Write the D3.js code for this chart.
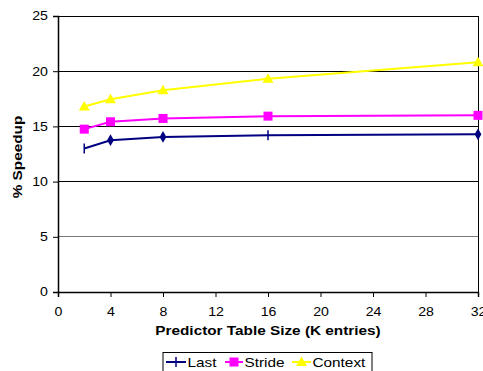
<!DOCTYPE html>
<html>
<head>
<meta charset="utf-8">
<script src="https://cdn.jsdelivr.net/npm/d3@7"></script>
<style>
  html, body { margin: 0; padding: 0; background: #fff; }
  svg { display: block; font-family: "Liberation Sans", Arial, sans-serif; }
</style>
</head>
<body>
<svg id="chart" width="483" height="371"></svg>
<script>
// Table sizes (K entries) and % speedup per predictor
const sizes = [2, 4, 8, 16, 32];
const lastValues = [13.0, 13.75, 14.05, 14.2, 14.28];
const strideValues = [14.75, 15.42, 15.72, 15.93, 16.0];
const contextValues = [16.8, 17.45, 18.27, 19.32, 20.8];
const lastMarkers = ["tick", "diamond", "diamond", "tick", "diamond"];
const xTicks = [0, 4, 8, 12, 16, 20, 24, 28, 32];
const yTicks = [0, 5, 10, 15, 20, 25];
const seriesNames = ["Last", "Stride", "Context"];

(function () {
const svg = d3.select("#chart");
const plotL = 58, plotR = 478, plotT = 16, plotB = 292;
const stretch = 1.18; // glyphs are drawn slightly wide, like the old GDI rendering

const x = d3.scaleLinear().domain([0, 32]).range([plotL, plotR]);
const y = d3.scaleLinear().domain([0, 25]).range([plotB, plotT]);

function label(parent, tx, ty, str, size, bold, anchor, rot) {
  return parent.append("text")
    .attr("transform", `translate(${tx},${ty})${rot ? ` rotate(${rot})` : ""} scale(${stretch},1)`)
    .attr("text-anchor", anchor || "start")
    .attr("font-size", size).attr("font-weight", bold ? "bold" : "normal")
    .attr("fill", "#000").text(str);
}

// Gridlines
svg.append("g").selectAll("line").data(yTicks.filter(d => d > 0)).join("line")
  .attr("x1", plotL).attr("x2", plotR)
  .attr("y1", d => y(d)).attr("y2", d => y(d))
  .attr("stroke", d => d === 5 ? "#777" : "#000").attr("stroke-width", 1)
  .attr("shape-rendering", "crispEdges");

// Plot frame (right edge)
svg.append("line").attr("x1", plotR).attr("x2", plotR).attr("y1", plotT).attr("y2", plotB)
  .attr("stroke", "#000").attr("shape-rendering", "crispEdges");

// Axes
const xAxis = svg.append("g").attr("transform", `translate(0,${plotB})`)
  .call(d3.axisBottom(x).tickValues(xTicks).tickSize(5).tickPadding(10));
const yAxis = svg.append("g").attr("transform", `translate(${plotL},0)`)
  .call(d3.axisLeft(y).tickValues(yTicks).tickSize(5).tickPadding(3.5));
[xAxis, yAxis].forEach(g => {
  g.select(".domain").attr("stroke", "#000").attr("stroke-width", 1.5);
  g.selectAll(".tick line").attr("stroke", "#000");
  g.selectAll(".tick text").attr("font-size", 12).attr("fill", "#000")
    .attr("transform", `scale(${stretch},1)`)
    .attr("font-family", "\"Liberation Sans\", Arial, sans-serif");
});

// Axis titles
label(svg, (plotL + plotR) / 2, 335, "Predictor Table Size (K entries)", 13, true, "middle");
label(svg, 22, 157, "% Speedup", 13, true, "middle", -90);

const line = d3.line().x(d => x(d[0])).y(d => y(d[1]));
const zip = vals => sizes.map((s, i) => [s, vals[i]]);

function drawMarker(g, type, cx, cy, color) {
  if (type === "tick") {
    g.append("line").attr("x1", cx).attr("x2", cx).attr("y1", cy - 5).attr("y2", cy + 5)
      .attr("stroke", color).attr("stroke-width", 1.5);
  } else if (type === "plus") {
    g.append("path").attr("d", `M${cx - 8},${cy}H${cx + 8}M${cx},${cy - 5}V${cy + 5}`)
      .attr("stroke", color).attr("stroke-width", 1.5).attr("fill", "none");
  } else if (type === "diamond") {
    g.append("path").attr("d", d3.symbol(d3.symbolDiamond, 40)())
      .attr("transform", `translate(${cx},${cy})`).attr("fill", color);
  } else if (type === "square") {
    g.append("rect").attr("x", cx - 4.5).attr("y", cy - 4.5).attr("width", 9).attr("height", 9)
      .attr("fill", color);
  } else if (type === "triangle") {
    g.append("path").attr("d", `M${cx},${cy - 5.5}L${cx + 5.5},${cy + 4}L${cx - 5.5},${cy + 4}Z`)
      .attr("fill", color);
  }
}

const series = [
  { name: seriesNames[0], vals: lastValues, color: "#000080", markers: lastMarkers, legend: "plus" },
  { name: seriesNames[1], vals: strideValues, color: "#ff00ff", markers: sizes.map(() => "square"), legend: "square" },
  { name: seriesNames[2], vals: contextValues, color: "#ffff00", markers: sizes.map(() => "triangle"), legend: "triangle" }
];

series.slice().reverse().forEach(s => {
  const g = svg.append("g");
  g.append("path").attr("d", line(zip(s.vals))).attr("fill", "none")
    .attr("stroke", s.color).attr("stroke-width", 2);
  zip(s.vals).forEach((p, i) => drawMarker(g, s.markers[i], x(p[0]), y(p[1]), s.color));
});

// Legend
const lg = svg.append("g");
lg.append("rect").attr("x", 163).attr("y", 352.5).attr("width", 209).attr("height", 20)
  .attr("fill", "#fff").attr("stroke", "#000").attr("stroke-width", 1);
const legendW = [[166, 186], [225, 243], [292, 311]];
series.forEach((s, i) => {
  const [x0, x1] = legendW[i];
  const cy = 362;
  lg.append("line").attr("x1", x0).attr("x2", x1).attr("y1", cy).attr("y2", cy)
    .attr("stroke", s.color).attr("stroke-width", 2);
  drawMarker(lg, s.legend, (x0 + x1) / 2, cy, s.color);
  label(lg, x1 + 1.5, 367, s.name, 13, false, "start");
});
})();
</script>
</body>
</html>
